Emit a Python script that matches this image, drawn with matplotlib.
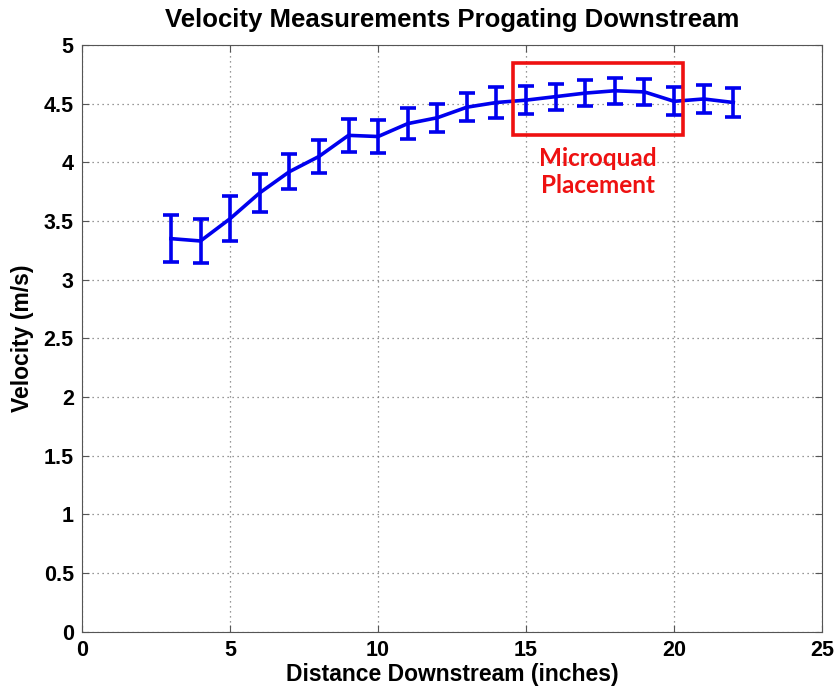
import matplotlib
matplotlib.use("Agg")
import matplotlib.pyplot as plt
from matplotlib.patches import Rectangle

# Measured stream velocity at each station downstream
distance = [3, 4, 5, 6, 7, 8, 9, 10, 11, 12, 13, 14, 15, 16, 17, 18, 19, 20, 21, 22]
velocity = [3.35, 3.33, 3.52, 3.74, 3.92, 4.05, 4.23, 4.22, 4.33, 4.38,
            4.47, 4.51, 4.53, 4.56, 4.59, 4.61, 4.60, 4.52, 4.54, 4.51]
error = [0.20, 0.19, 0.19, 0.16, 0.15, 0.14, 0.14, 0.14, 0.13, 0.12,
         0.12, 0.13, 0.12, 0.11, 0.11, 0.11, 0.11, 0.12, 0.12, 0.12]

# region where the microquad sits
box_x = [14.55, 20.3]
box_y = [4.23, 4.85]

plt.rcParams["font.family"] = ["Liberation Sans", "DejaVu Sans"]
plt.rcParams["font.weight"] = "bold"

fig = plt.figure(figsize=(8.38, 6.92), dpi=100)
ax = fig.add_axes([0.098, 0.087, 0.883, 0.848])

ax.errorbar(distance, velocity, yerr=error, color="#0000ee", lw=2.6,
            elinewidth=2.6, capsize=6, capthick=2.6, zorder=3)

ax.add_patch(Rectangle((box_x[0], box_y[0]), box_x[1] - box_x[0], box_y[1] - box_y[0],
                       fill=False, edgecolor="#ee1111", lw=2.6, zorder=4))
ax.text(sum(box_x) / 2, 3.92, "Microquad\nPlacement", color="#ee1111",
        family=["Lato", "DejaVu Sans"], fontsize=17.5, fontweight="bold",
        ha="center", va="center", linespacing=1.2)

ax.set_xlim(0, 25)
ax.set_ylim(0, 5)
ax.set_xticks(range(0, 26, 5))
ax.set_yticks([i * 0.5 for i in range(11)])
ax.set_yticklabels(["0", "0.5", "1", "1.5", "2", "2.5", "3", "3.5", "4", "4.5", "5"])
ax.grid(True, linestyle=(0, (1, 3)), color="#777777", lw=0.9)
ax.tick_params(direction="in", labelsize=15.5, length=5, color="#555555",
               top=True, right=True)
ax.tick_params(axis="x", pad=6)
ax.tick_params(axis="y", pad=6)
for s in ax.spines.values():
    s.set_color("#555555")

ax.set_xlabel("Distance Downstream (inches)", fontsize=16.5, fontweight="bold", labelpad=1)
ax.set_ylabel("Velocity (m/s)", fontsize=16.5, fontweight="bold", labelpad=7)
ax.set_title("Velocity Measurements Progating Downstream", fontsize=18.5,
             fontweight="bold", pad=13)

fig.savefig("out.png", dpi=100)
